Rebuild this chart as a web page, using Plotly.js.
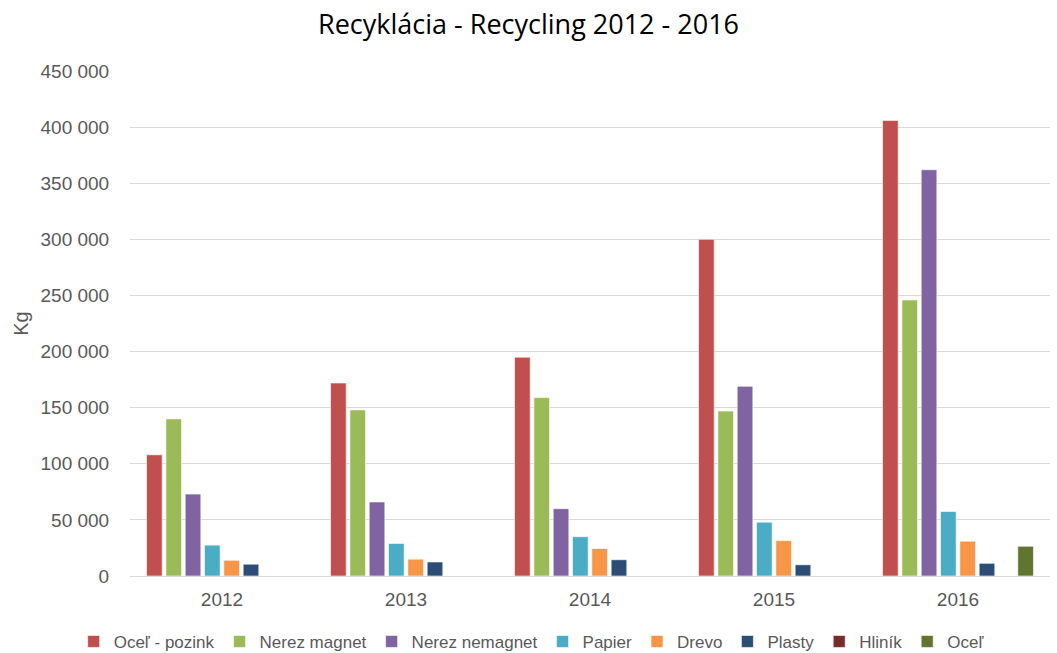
<!DOCTYPE html>
<html>
<head>
<meta charset="utf-8">
<script src="https://cdn.plot.ly/plotly-3.0.1.min.js"></script>
<style>html,body{margin:0;padding:0;background:#fff;}#chart{width:1057px;height:653px;}</style>
</head>
<body>
<div id="chart"></div>
<script>
const years = ["2012", "2013", "2014", "2015", "2016"];
const seriesNames = ["Oceľ - pozink", "Nerez magnet", "Nerez nemagnet", "Papier", "Drevo", "Plasty", "Hliník", "Oceľ"];
const ocelPozink = [108000, 172000, 195000, 300000, 406000];
const nerezMagnet = [140000, 148000, 159000, 147000, 246000];
const nerezNemagnet = [73000, 66000, 60000, 169000, 362000];
const papier = [27500, 29000, 35000, 48000, 57500];
const drevo = [14000, 15000, 24500, 31500, 31000];
const plasty = [10500, 12500, 14500, 10000, 11300];
const hlinik = [0, 0, 0, 0, 0];
const ocel = [0, 0, 0, 0, 26500];
const colors = ["#C0504D", "#9BBB59", "#8064A2", "#4BACC6", "#F79646", "#2C4D75", "#772C2A", "#5F7530"];

const allSeries = [ocelPozink, nerezMagnet, nerezNemagnet, papier, drevo, plasty, hlinik, ocel];
const data = allSeries.map((vals, i) => ({
  type: "bar",
  name: seriesNames[i],
  x: years,
  y: vals,
  marker: {color: colors[i], line: {color: "rgba(255,255,255,0.6)", width: 1}},
  hoverinfo: "x+y+name"
}));

const tickFontFamily = "Liberation Sans, Arial, sans-serif";
const layout = {
  width: 1057,
  height: 653,
  paper_bgcolor: "#fff",
  plot_bgcolor: "#fff",
  separators: ", ",
  margin: {l: 130, r: 7, t: 71, b: 77},
  title: {text: "Recyklácia - Recycling 2012 - 2016", font: {family: "Open Sans, Liberation Sans, sans-serif", size: 27, color: "#000"}, x: 0.5, xref: "container", xanchor: "center", y: 0.962, yanchor: "middle"},
  barmode: "group",
  bargap: 0.16,
  bargroupgap: 0.19,
  showlegend: true,
  legend: {orientation: "h", x: 0.503, xanchor: "center", xref: "container", y: 0.017, yref: "container", yanchor: "middle",
    font: {family: tickFontFamily, size: 17, color: "#595959"}, itemwidth: 30, traceorder: "normal"},
  xaxis: {type: "category", tickfont: {family: tickFontFamily, size: 19, color: "#595959"}, showgrid: false, showline: true, linecolor: "#d9d9d9", linewidth: 1, ticks: "outside", ticklen: 6, tickcolor: "rgba(0,0,0,0)", automargin: false},
  yaxis: {range: [0, 450000], dtick: 50000, tickformat: ",d", gridcolor: "#d9d9d9", gridwidth: 1, zeroline: false, showline: false, automargin: false,
    tickfont: {family: tickFontFamily, size: 19, color: "#595959"},
    ticks: "outside", ticklen: 16, tickcolor: "rgba(0,0,0,0)",
    title: {text: "Kg", font: {family: tickFontFamily, size: 20, color: "#595959"}, standoff: 6}}
};

Plotly.newPlot("chart", data, layout, {displayModeBar: false, responsive: false});
</script>
</body>
</html>
